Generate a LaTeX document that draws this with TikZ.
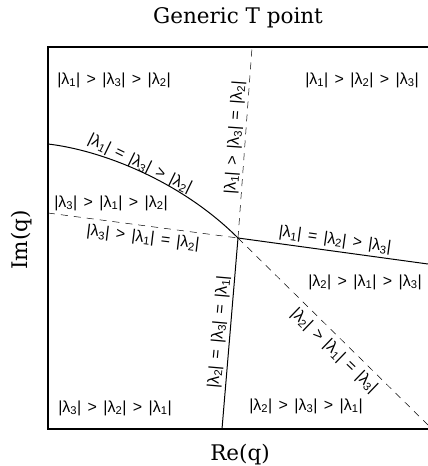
\documentclass[tikz,border=0pt]{standalone}
\usepackage{fontspec}
\usetikzlibrary{positioning}
\newfontfamily\labfont{Liberation Sans}
\newfontfamily\axfont{DejaVu Serif}
\newcommand{\lmag}[1]{|λ\textsubscript{#1}|}
\newcommand{\rgt}{\hspace{0.4em}>\hspace{0.4em}}
\newcommand{\req}{\hspace{0.4em}=\hspace{0.4em}}

\begin{document}
\begin{tikzpicture}[x=1pt, y=-1pt,
    frame/.style={line width=1.3pt},
    border/.style={line width=1pt},
    cross/.style={line width=0.5pt, dash pattern=on 7pt off 6pt},
    region/.style={font=\labfont\fontsize{16}{16}\selectfont, inner sep=0pt},
    axis/.style={font=\axfont\fontsize{21.5}{21.5}\selectfont, inner sep=0pt}
]
\useasboundingbox (0,0) rectangle (428,466);

% frame (open on the right)
\draw[frame] (428,47) -- (48,47) -- (48,429) -- (428,429);

% T point and where the phase borders leave the frame
\coordinate (T) at (238,238);
\coordinate (left) at (48,144);
\coordinate (right) at (428,264);
\coordinate (bottom) at (222,429);
\coordinate (top) at (252,48);
\coordinate (lefd) at (48,213);
\coordinate (lowr) at (428,425);

\draw[border] (left) .. controls (100,150) and (180,180) .. (T);
\draw[border] (T) -- (right);
\draw[border] (T) -- (bottom);
\draw[cross] (T) -- (top);
\draw[cross] (lefd) -- (T);
\draw[cross] (T) -- (lowr);

% region labels
\node[region] (r132) at (114,80) {\lmag{1}\rgt\lmag{3}\rgt\lmag{2}};
\node[region] (r123) at (362,80) {\lmag{1}\rgt\lmag{2}\rgt\lmag{3}};
\node[region] (r312) at (111,203) {\lmag{3}\rgt\lmag{1}\rgt\lmag{2}};
\node[region] (r213) at (365,282) {\lmag{2}\rgt\lmag{1}\rgt\lmag{3}};
\node[region] (r321) at (115,408) {\lmag{3}\rgt\lmag{2}\rgt\lmag{1}};
\node[region] (r231) at (306,406) {\lmag{2}\rgt\lmag{3}\rgt\lmag{1}};

% border labels
\node[region, rotate=86] (b1e32) at (235,138) {\lmag{1}\rgt\lmag{3}\req\lmag{2}};
\node[region, rotate=-26] (b13e2) at (140,164) {\lmag{1}\req\lmag{3}\rgt\lmag{2}};
\node[region, rotate=-7] (b3e12) at (143,238) {\lmag{3}\rgt\lmag{1}\req\lmag{2}};
\node[region, rotate=-8] (b12e3) at (335,240) {\lmag{1}\req\lmag{2}\rgt\lmag{3}};
\node[region, rotate=-44] (b2e13) at (334,351) {\lmag{2}\rgt\lmag{1}\req\lmag{3}};
\node[region, rotate=85] (b23e1) at (219,332) {\lmag{2}\req\lmag{3}\req\lmag{1}};

% title and axes
\node[axis] (title) at (238,18) {Generic T point};
\node[axis] (xlab) at (240,455) {Re(q)};
\node[axis, rotate=90] (ylab) at (22,240) {Im(q)};
\end{tikzpicture}
\end{document}
